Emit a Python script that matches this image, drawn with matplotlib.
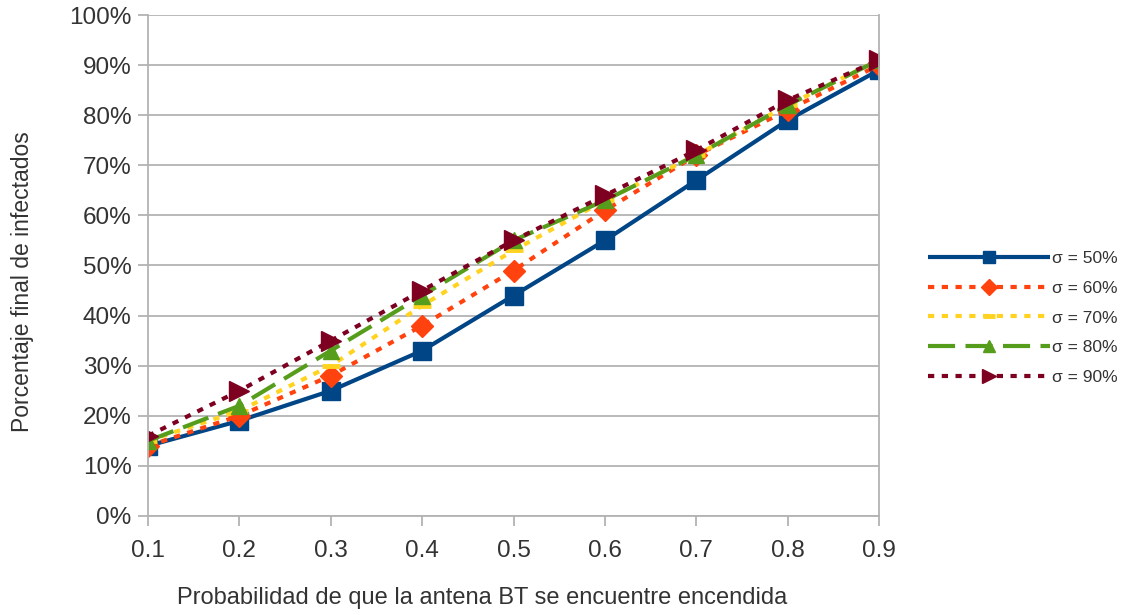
import matplotlib.pyplot as plt
from matplotlib.ticker import PercentFormatter

plt.rcParams['font.family'] = ['Liberation Sans', 'DejaVu Sans']

# probabilidad de antena encendida
prob = [0.1, 0.2, 0.3, 0.4, 0.5, 0.6, 0.7, 0.8, 0.9]

# porcentaje final de infectados por cada sigma
s50 = [14, 19, 25, 33, 44, 55, 67, 79, 89]
s60 = [14, 20, 28, 38, 49, 61, 72, 81, 90]
s70 = [15, 21, 30, 42, 53, 63, 72, 82, 91]
s80 = [15, 22, 33, 44, 55, 63, 72, 82, 91]
s90 = [16, 25, 35, 45, 55, 64, 73, 83, 91]

labels = ['σ = 50%', 'σ = 60%', 'σ = 70%', 'σ = 80%', 'σ = 90%']
series = [s50, s60, s70, s80, s90]

colores = ['#004586', '#ff420e', '#ffd320', '#579d1c', '#7e0021']
marcas = ['s', 'D', '_', '^', '>']
tam = [13, 11, 13, 12, 14]
trazos = [None, (1.5, 1.8), (1.5, 1.8), (6.5, 2.5), (1.5, 1.8)]

fig = plt.figure(figsize=(11.25, 6.15), dpi=100)
ax = fig.add_axes([0.1316, 0.161, 0.6497, 0.8146])

for y, lab, c, m, ms, d in zip(series, labels, colores, marcas, tam, trazos):
    ln, = ax.plot(prob, y, color=c, marker=m, markersize=ms, linewidth=3,
                  label=lab, markeredgewidth=3.5 if m == '_' else 1,
                  markeredgecolor=c, solid_capstyle='butt')
    if d is not None:
        ln.set_dashes(d)
        ln.set_dash_capstyle('butt')

ax.set_xlim(0.1, 0.9)
ax.set_ylim(0, 100)
ax.set_xticks(prob)
ax.set_yticks(range(0, 101, 10))
ax.yaxis.set_major_formatter(PercentFormatter(decimals=0))
ax.set_xticklabels([f'{p:.1f}' for p in prob])

ax.grid(axis='y', color='#b3b3b3', linewidth=1.3)
ax.set_axisbelow(True)
for lado in ['left', 'right']:
    ax.spines[lado].set_color('#b3b3b3')
    ax.spines[lado].set_linewidth(1.3)
ax.spines['top'].set_visible(False)
ax.spines['bottom'].set_color('#b3b3b3')
ax.spines['bottom'].set_linewidth(1.3)

ax.tick_params(axis='both', colors='#b3b3b3', width=1.3, length=7,
               labelsize=17.5, labelcolor='#333333')
ax.tick_params(axis='x', pad=10)
ax.tick_params(axis='y', pad=5)

ax.set_xlabel('Probabilidad de que la antena BT se encuentre encendida',
              fontsize=17, color='#333333')
ax.xaxis.set_label_coords(0.457, -0.142)
ax.set_ylabel('Porcentaje final de infectados', fontsize=16.5,
              color='#333333')
ax.yaxis.set_label_coords(-0.156, 0.467)

ley = fig.legend(loc='center left', bbox_to_anchor=(0.811, 0.483),
                 frameon=False, fontsize=12.5, handlelength=7.0,
                 handletextpad=0.15, labelspacing=0.85, markerscale=0.7)
for t in ley.get_texts():
    t.set_color('#333333')

plt.savefig('out.png', dpi=100)
